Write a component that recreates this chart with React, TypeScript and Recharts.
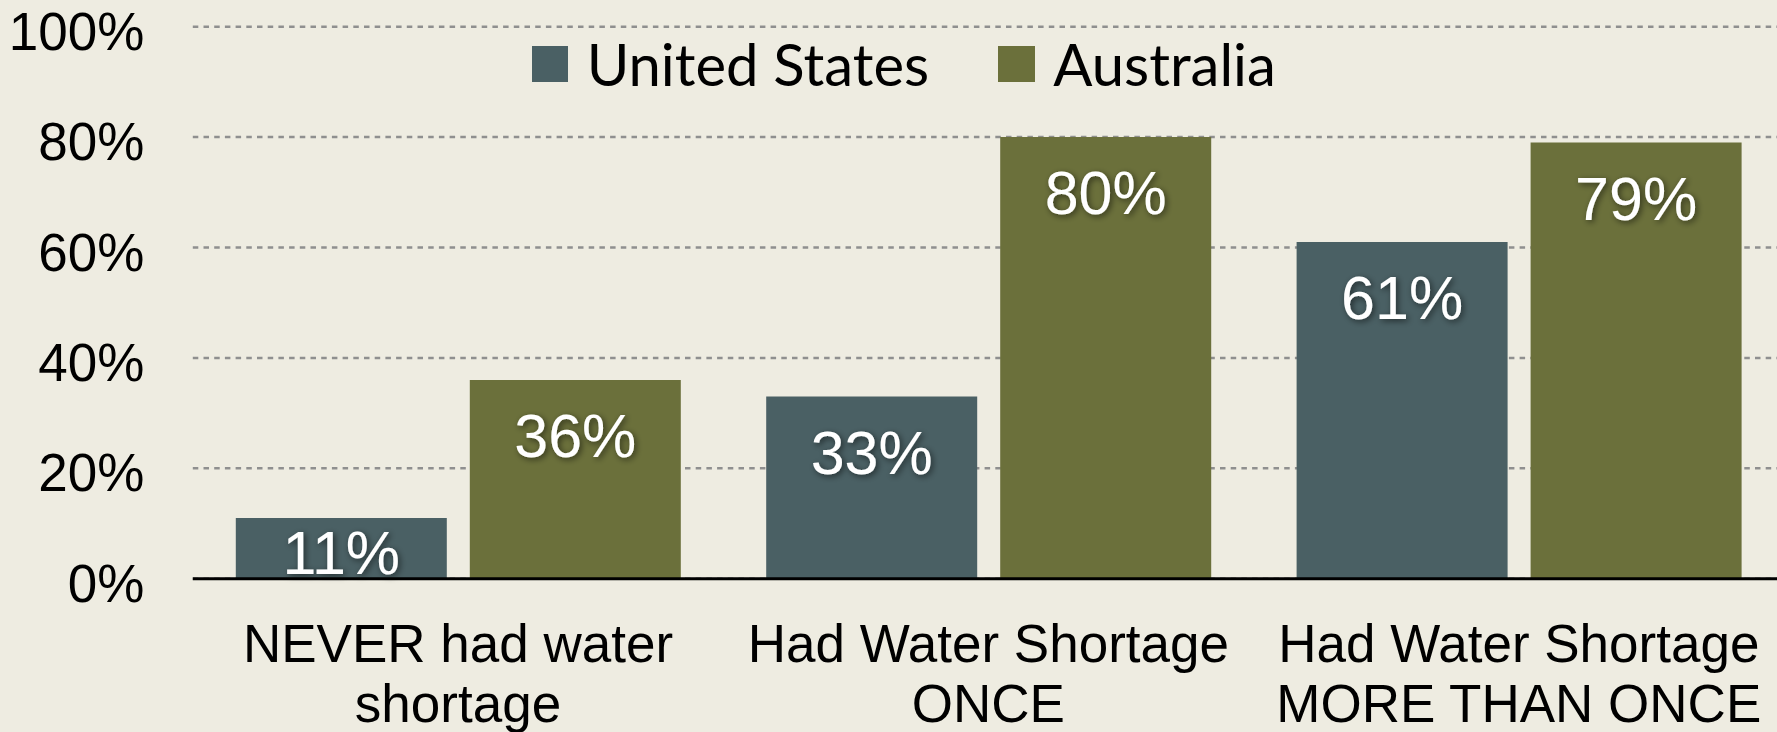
import React from 'react';
import { BarChart, Bar, XAxis, YAxis, CartesianGrid, Legend, LabelList } from 'recharts';

const categoryLines: string[][] = [
  ['NEVER had water', 'shortage'],
  ['Had Water Shortage', 'ONCE'],
  ['Had Water Shortage', 'MORE THAN ONCE'],
];
const categories: string[] = categoryLines.map((l) => l.join(' '));
const unitedStates: number[] = [11, 33, 61];
const australia: number[] = [36, 80, 79];
const yTicks: number[] = [0, 20, 40, 60, 80, 100];
const seriesNames: string[] = ['United States', 'Australia'];
const seriesKeys: string[] = ['us', 'au'];
const seriesColors: string[] = ['#4A6064', '#6B703B'];

const data = categories.map((c, i) => ({ category: c, us: unitedStates[i], au: australia[i] }));

const FONT = '"Liberation Sans", Arial, sans-serif';

const YTick = (props: any) => {
  const { x, y, payload } = props;
  return (
    <text x={x} y={y} dy={23} textAnchor="end" fontFamily={FONT} fontSize={53} fill="#000">
      {payload.value}%
    </text>
  );
};

const XTick = (props: any) => {
  const { x, y, payload } = props;
  const lines = categoryLines[payload.index] || [String(payload.value)];
  return (
    <text x={x} textAnchor="middle" fontFamily={FONT} fontSize={53} fill="#000">
      {lines.map((l, i) => (
        <tspan key={i} x={x} y={y + 83 + i * 60}>
          {l}
        </tspan>
      ))}
    </text>
  );
};

const ValueLabel = (props: any) => {
  const { x, y, width, height, value } = props;
  const cx = Number(x) + Number(width) / 2;
  const baseline = Math.min(Number(y) + 77, Number(y) + Number(height) / 2 + 26);
  return (
    <text
      x={cx}
      y={baseline}
      textAnchor="middle"
      fontFamily={FONT}
      fontSize={61}
      fill="#FFFFFF"
      filter="url(#lblShadow)"
    >
      {value}%
    </text>
  );
};

const LegendContent = () => (
  <div style={{ display: 'flex', alignItems: 'center' }}>
    {seriesNames.map((n, i) => (
      <div key={n} style={{ display: 'flex', alignItems: 'center', marginRight: i === 0 ? 69 : 0 }}>
        <div style={{ width: 36.5, height: 36, background: seriesColors[i], marginRight: 18.5 }} />
        <span style={{ fontFamily: 'Lato, sans-serif', fontSize: 58, lineHeight: '58px', color: '#000', whiteSpace: 'nowrap' }}>
          {n}
        </span>
      </div>
    ))}
  </div>
);

export default function App() {
  return (
    <div
      style={{
        position: 'absolute',
        left: 0,
        top: 0,
        width: 1777,
        height: 732,
        overflow: 'hidden',
        background: '#EEECE1',
      }}
    >
      <svg width={0} height={0} style={{ position: 'absolute' }}>
        <defs>
          <filter id="lblShadow" x="-30%" y="-30%" width="160%" height="170%">
            <feDropShadow dx="2" dy="2" stdDeviation="3" floodColor="#000" floodOpacity="0.55" />
          </filter>
        </defs>
      </svg>
      <BarChart
        width={1790}
        height={732}
        data={data}
        margin={{ top: 26.7, right: 6, left: 0, bottom: 0 }}
        barCategoryGap={43}
        barGap={23}
      >
        <CartesianGrid vertical={false} stroke="#8F8F8F" strokeWidth={2.5} strokeDasharray="5.5 5.2" />
        <XAxis
          dataKey="category"
          height={153.3}
          tickLine={false}
          tickSize={0}
          tickMargin={0}
          axisLine={{ stroke: '#000', strokeWidth: 3 }}
          tick={<XTick />}
          interval={0}
        />
        <YAxis
          domain={[0, 100]}
          ticks={yTicks}
          width={192.8}
          axisLine={false}
          tickLine={false}
          tickSize={0}
          tickMargin={48.5}
          tick={<YTick />}
          interval={0}
        />
        <Legend
          layout="horizontal"
          verticalAlign="middle"
          align="center"
          content={<LegendContent />}
          wrapperStyle={{ position: 'absolute', left: 531.7, top: 35.3, width: 'auto', height: 'auto', margin: 0, padding: 0 }}
        />
        {seriesKeys.map((k, i) => (
          <Bar key={k} dataKey={k} name={seriesNames[i]} fill={seriesColors[i]} isAnimationActive={false}>
            <LabelList dataKey={k} content={<ValueLabel />} />
          </Bar>
        ))}
      </BarChart>
    </div>
  );
}
